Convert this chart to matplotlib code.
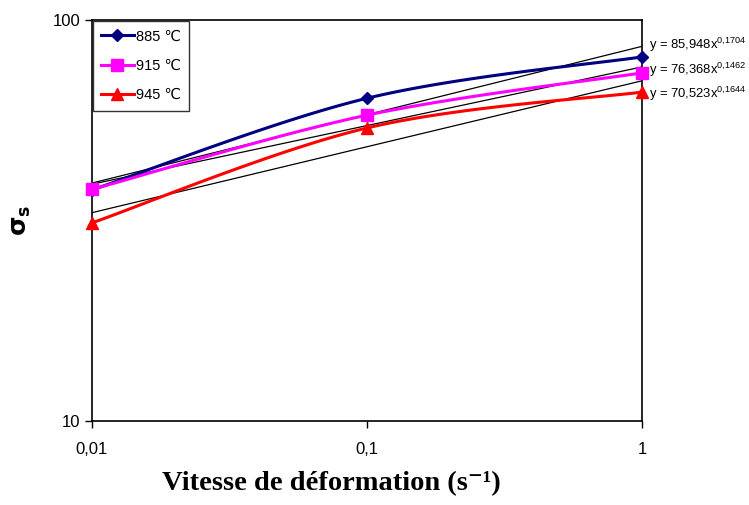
import numpy as np
import matplotlib.pyplot as plt

# Donnees
vitesse = [0.01, 0.1, 1]
temperatures = ['885 \u2103', '915 \u2103', '945 \u2103']
sigma_885 = [37.7, 63.8, 80.9]
sigma_915 = [37.8, 57.9, 73.8]
sigma_945 = [31.2, 53.8, 66.1]
# Coefficients des courbes de tendance (puissance) y = a * x^b
coef_a = [85.948, 76.368, 70.523]
coef_b = [0.1704, 0.1462, 0.1644]
equations = ['y = 85,948x$^{0{,}1704}$', 'y = 76,368x$^{0{,}1462}$', 'y = 70,523x$^{0{,}1644}$']

couleurs = ['#000080', '#FF00FF', '#FF0000']
marqueurs = ['D', 's', '^']
tailles = [6, 8, 8]

plt.rcParams['font.family'] = ['Liberation Sans', 'DejaVu Sans']
plt.rcParams['mathtext.default'] = 'regular'


def lisse(x, y, n=40):
    # courbe lissee type Excel (Catmull-Rom dans l'espace log-log)
    lx, ly = np.log10(x), np.log10(y)
    P = np.column_stack([lx, ly])
    P = np.vstack([P[0], P, P[-1]])
    out = []
    for i in range(1, len(P) - 2):
        p0, p1, p2, p3 = P[i - 1], P[i], P[i + 1], P[i + 2]
        t = np.linspace(0, 1, n)[:, None]
        c = 0.5 * ((2 * p1) + (-p0 + p2) * t + (2 * p0 - 5 * p1 + 4 * p2 - p3) * t ** 2
                   + (-p0 + 3 * p1 - 3 * p2 + p3) * t ** 3)
        out.append(c)
    c = np.vstack(out)
    return 10 ** c[:, 0], 10 ** c[:, 1]


fig = plt.figure(figsize=(7.49, 5.05), dpi=100)
ax = fig.add_axes([0.1228, 0.1663, 0.7342, 0.7941])
ax.set_xscale('log')
ax.set_yscale('log')

series = [sigma_885, sigma_915, sigma_945]
handles = []
for s, col, m, ms, lab in zip(series, couleurs, marqueurs, tailles, temperatures):
    xs, ys = lisse(vitesse, s)
    ax.plot(xs, ys, color=col, lw=2.2, zorder=3)
    ax.plot(vitesse, s, ls='none', marker=m, color=col, ms=ms, zorder=4, clip_on=False)
    h, = ax.plot([], [], color=col, lw=2.2, marker=m, ms=ms, label=lab)
    handles.append(h)

# courbes de tendance
pos_eq = [0.938, 0.875, 0.815]
for a, b, eq, py in zip(coef_a, coef_b, equations, pos_eq):
    xt = np.array([vitesse[0], vitesse[-1]])
    ax.plot(xt, a * xt ** b, color='black', lw=0.9, zorder=2)
    ax.text(1.013, py, eq, transform=ax.transAxes, fontsize=9.4,
            va='center', ha='left')

ax.set_xlim(0.01, 1)
ax.set_ylim(10, 100)
ax.set_xticks(vitesse)
ax.set_xticklabels(['0,01', '0,1', '1'])
ax.set_yticks([10, 100])
ax.set_yticklabels(['10', '100'])
ax.minorticks_off()
ax.tick_params(labelsize=12, direction='out', length=5, width=1)
ax.tick_params(axis='x', pad=10)
for sp in ax.spines.values():
    sp.set_linewidth(1.2)

ax.set_xlabel('Vitesse de d\u00e9formation (s\u207b\u00b9)', fontsize=20.5, fontweight='bold',
              family=['Liberation Serif', 'DejaVu Serif'])
ax.xaxis.set_label_coords(0.436, -0.125)
ax.set_ylabel(r'$\mathbf{\sigma_s}$', fontsize=18, labelpad=14)

leg = ax.legend(handles=handles, loc='upper left', bbox_to_anchor=(0.0, 1.0), fontsize=10.5,
                frameon=True, fancybox=False, edgecolor='black', handlelength=2.2,
                handletextpad=0.15, borderaxespad=0.05, labelspacing=1.05, borderpad=0.6)
leg.get_frame().set_linewidth(1.0)

fig.savefig('out.png', dpi=100)
